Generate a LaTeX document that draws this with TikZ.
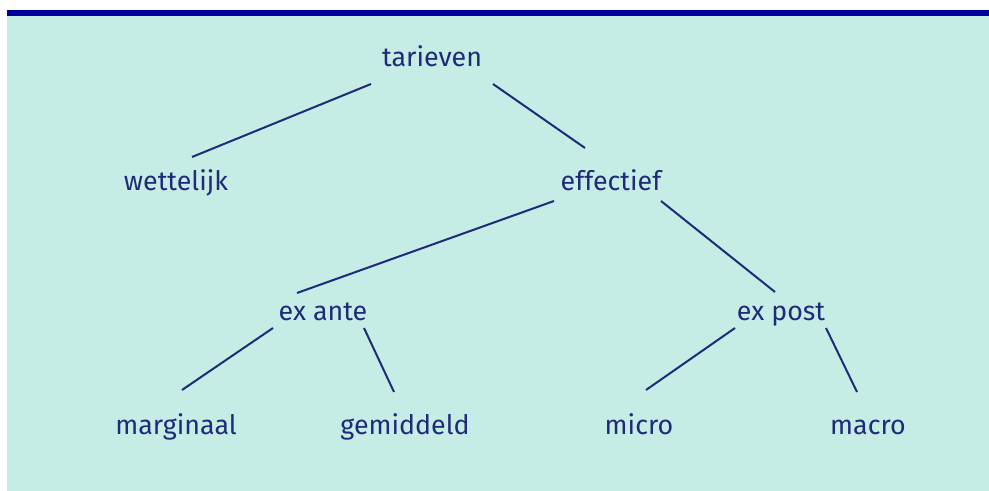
\documentclass[tikz,border=0pt]{standalone}
\usepackage{fontspec}
\setmainfont{Fira Sans}
\usetikzlibrary{calc}

\definecolor{mint}{HTML}{C5EDE5}
\definecolor{topbar}{HTML}{0000A0}
\definecolor{navy}{HTML}{1F2A78}

\begin{document}
\begin{tikzpicture}[x=0.5pt,y=-0.5pt,
      term/.style={text=navy,font=\fontsize{13.4}{15}\selectfont,inner sep=0pt,anchor=base},
      tak/.style={draw=navy,line width=1pt}]

      \useasboundingbox (0,0) rectangle (989,491);
      \fill[mint] (7,10) rectangle (989,491);
      \fill[topbar] (7,10) rectangle (989,16);

      \node[term] (tar)  at (432,  67) { tarieven };
      \node[term] (wet)  at (176, 191) { wettelijk };
      \node[term] (eff)  at (611, 191) { effectief };
      \node[term] (ante) at (323, 321) { ex ante };
      \node[term] (post) at (781, 321) { ex post };
      \node[term] (marg) at (176, 434) { marginaal };
      \node[term] (gem)  at (405, 434) { gemiddeld };
      \node[term] (mic)  at (639, 434) { micro };
      \node[term] (mac)  at (868, 434) { macro };

      \path[tak]
      ([shift={(-61,17)}]tar.base)  edge ([shift={(16,-34)}]wet.base)
      ([shift={(61,17)}]tar.base)   edge ([shift={(-26,-43)}]eff.base)
      ([shift={(-57,10)}]eff.base)  edge ([shift={(-26,-28)}]ante.base)
      ([shift={(50,10)}]eff.base)   edge ([shift={(-6,-29)}]post.base)
      ([shift={(-50,7)}]ante.base)  edge ([shift={(6,-44)}]marg.base)
      ([shift={(41,7)}]ante.base)   edge ([shift={(-11,-42)}]gem.base)
      ([shift={(-46,7)}]post.base)  edge ([shift={(7,-44)}]mic.base)
      ([shift={(45,7)}]post.base)   edge ([shift={(-11,-42)}]mac.base)
      ;
    \end{tikzpicture}
\end{document}
